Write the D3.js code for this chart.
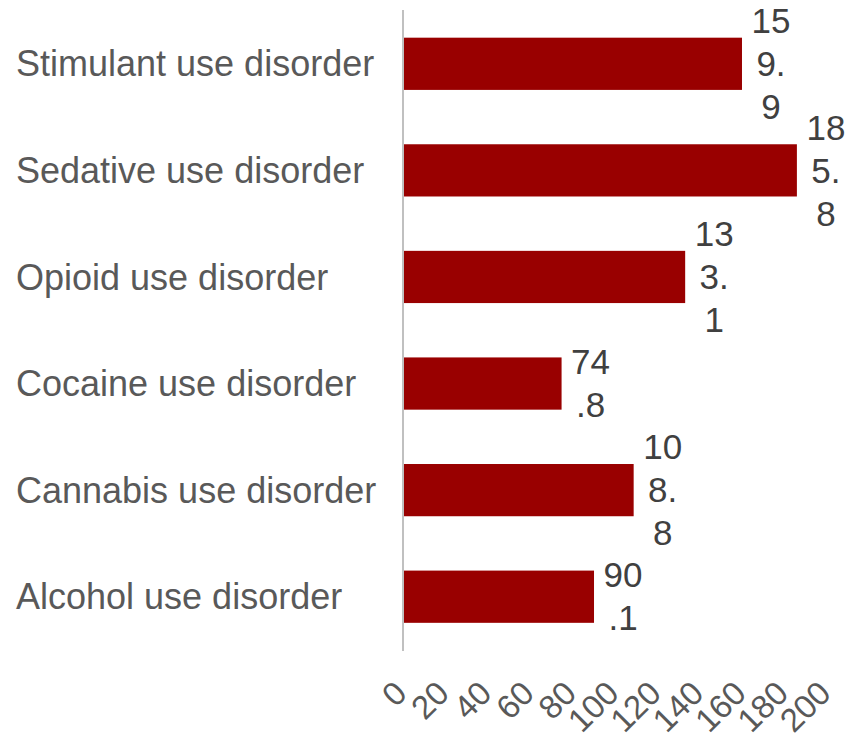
<!DOCTYPE html>
<html>
<head>
<meta charset="utf-8">
<script src="https://cdn.jsdelivr.net/npm/d3@7"></script>
<style>
  html, body { margin: 0; padding: 0; background: #ffffff; }
  svg { display: block; font-family: "Liberation Sans", Arial, sans-serif; }
  .x-axis text { font-size: 33px; fill: #595959; }
</style>
</head>
<body>
<svg id="chart" width="859" height="738"></svg>
<script>
// Disorder categories, top to bottom
const categories = [
  "Stimulant use disorder",
  "Sedative use disorder",
  "Opioid use disorder",
  "Cocaine use disorder",
  "Cannabis use disorder",
  "Alcohol use disorder"
];
// Values shown on each bar
const values = [159.9, 185.8, 133.1, 74.8, 108.8, 90.1];
// Axis ticks
const tickValues = [0, 20, 40, 60, 80, 100, 120, 140, 160, 180, 200];

const svg = d3.select("#chart");
const axisX = 403;

const x = d3.scaleLinear().domain([0, 200]).range([axisX, axisX + 424]);
const y = d3.scaleBand().domain(categories).range([10.5, 650]).paddingInner(0.51).paddingOuter(0.255);

// Bars
svg.selectAll("rect.bar")
  .data(categories)
  .join("rect")
  .attr("class", "bar")
  .attr("x", x(0))
  .attr("y", d => y(d))
  .attr("width", (d, i) => x(values[i]) - x(0))
  .attr("height", y.bandwidth())
  .attr("fill", "#990000");

// Vertical axis line
svg.append("line")
  .attr("x1", axisX).attr("x2", axisX)
  .attr("y1", 10).attr("y2", 651)
  .attr("stroke", "#c0c0c0").attr("stroke-width", 2);

// Category labels
svg.selectAll("text.cat")
  .data(categories)
  .join("text")
  .attr("class", "cat")
  .attr("x", 16)
  .attr("y", d => y(d) + y.bandwidth() / 2)
  .attr("dy", "0.35em")
  .attr("font-size", 36)
  .attr("fill", "#595959")
  .text(d => d);

// Value labels, wrapped into narrow two-character lines
const lineH = 43;
svg.selectAll("text.val")
  .data(categories)
  .join("text")
  .attr("class", "val")
  .attr("font-size", 35)
  .attr("fill", "#404040")
  .attr("text-anchor", "middle")
  .each(function (d, i) {
    const s = String(values[i]);
    const parts = [];
    for (let k = 0; k < s.length; k += 2) parts.push(s.slice(k, k + 2));
    const cx = x(values[i]) + 29;
    const cy = y(d) + y.bandwidth() / 2;
    const top = cy - (parts.length - 1) * lineH / 2;
    d3.select(this).selectAll("tspan")
      .data(parts)
      .join("tspan")
      .attr("x", cx)
      .attr("y", (p, j) => top + j * lineH)
      .attr("dy", "0.35em")
      .text(p => p);
  });

// Horizontal axis tick labels, rotated
const xAxis = d3.axisBottom(x).tickValues(tickValues).tickSize(0).tickPadding(0);
const gx = svg.append("g")
  .attr("class", "x-axis")
  .attr("transform", "translate(0,687)")
  .call(xAxis);
gx.attr("font-size", null).attr("font-family", null);
gx.select(".domain").remove();
gx.selectAll("text")
  .attr("fill", "#595959")
  .attr("text-anchor", "end")
  .attr("dy", "0.35em")
  .attr("transform", "translate(-3,0) rotate(-45)");
</script>
</body>
</html>
